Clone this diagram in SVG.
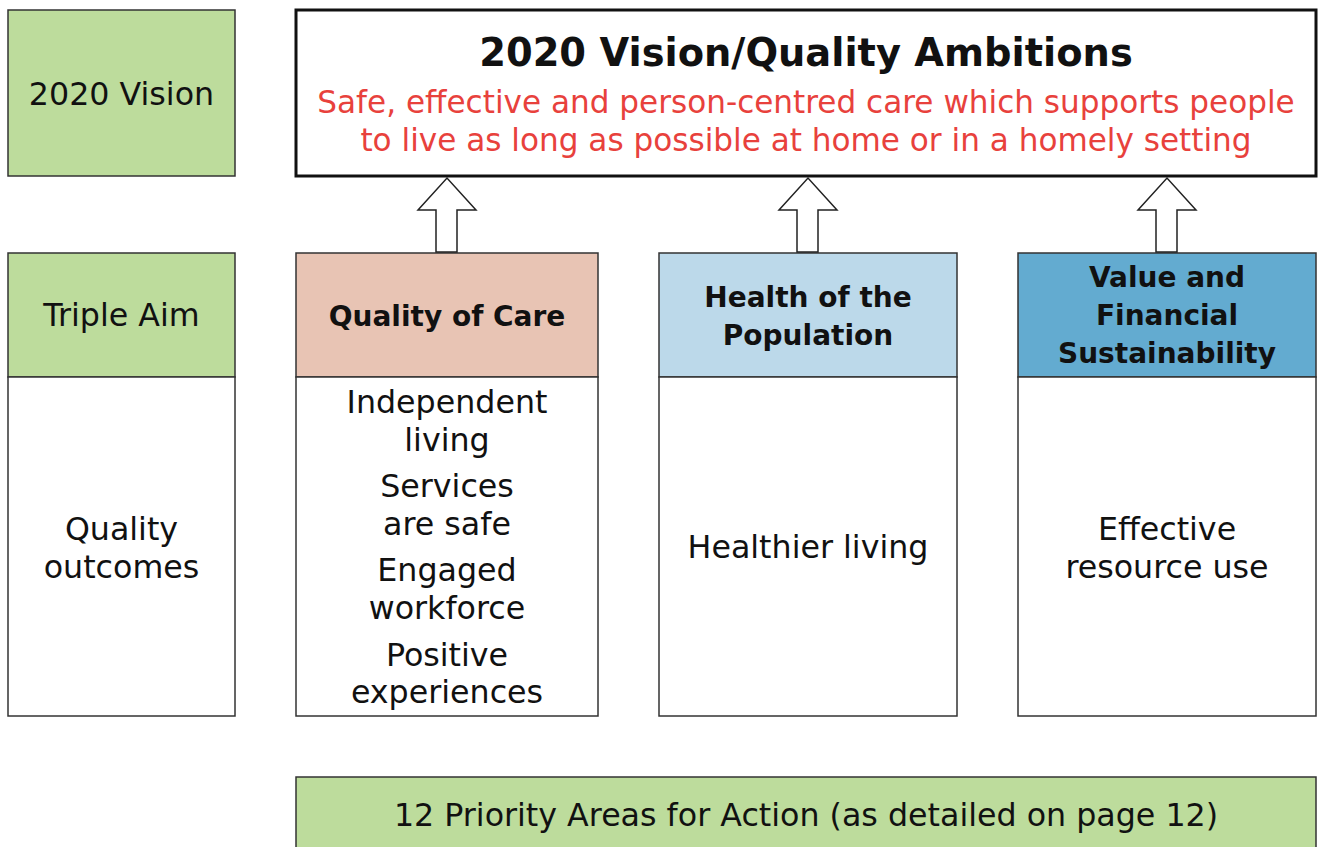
<svg xmlns="http://www.w3.org/2000/svg" width="1319" height="847" viewBox="0 0 1319 847">
<style>
.g{fill:#bddc9c;stroke:#333;stroke-width:1.5}
.w{fill:#fff;stroke:#333;stroke-width:1.5}
text{font-family:"DejaVu Sans","Noto Sans",sans-serif;text-anchor:middle;fill:#111}
.n{font-size:31.7px}
.b{font-size:28px;font-weight:bold}
.r{font-size:31.1px;fill:#e8413c}
.arr{fill:#fff;stroke:#222;stroke-width:1.5}
</style>
<rect width="1319" height="847" fill="#fff"/>
<g id="vision-label"><rect class="g" x="8" y="10" width="227" height="166"/><text class="n" x="121.5" y="105">2020 Vision</text></g>
<g id="vision-main"><rect x="296" y="10" width="1020" height="166" fill="#fff" stroke="#111" stroke-width="3"/>
<text x="806" y="66" font-size="38.4" font-weight="bold">2020 Vision/Quality Ambitions</text>
<text class="r" x="806" y="113">Safe, effective and person-centred care which supports people</text>
<text class="r" x="806" y="151">to live as long as possible at home or in a homely setting</text></g>
<g id="triple-label"><rect class="g" x="8" y="253" width="227" height="124"/><text class="n" x="121.5" y="326">Triple Aim</text>
<rect class="w" x="8" y="377" width="227" height="339"/><text class="n" x="121.5" y="540">Quality</text><text class="n" x="121.5" y="578">outcomes</text></g>
<g id="quality"><rect x="296" y="253" width="302" height="124" fill="#e8c4b4" stroke="#333" stroke-width="1.5"/><text class="b" x="447" y="326">Quality of Care</text>
<rect class="w" x="296" y="377" width="302" height="339"/>
<text class="n" x="447" y="413">Independent</text><text class="n" x="447" y="451">living</text>
<text class="n" x="447" y="497">Services</text><text class="n" x="447" y="535">are safe</text>
<text class="n" x="447" y="581">Engaged</text><text class="n" x="447" y="619">workforce</text>
<text class="n" x="447" y="666">Positive</text><text class="n" x="447" y="703">experiences</text></g>
<g id="health"><rect x="659" y="253" width="298" height="124" fill="#bcd9ea" stroke="#333" stroke-width="1.5"/><text class="b" x="808" y="307">Health of the</text><text class="b" x="808" y="345">Population</text>
<rect class="w" x="659" y="377" width="298" height="339"/><text class="n" x="808" y="558">Healthier living</text></g>
<g id="value"><rect x="1018" y="253" width="298" height="124" fill="#63abd0" stroke="#333" stroke-width="1.5"/><text class="b" x="1167" y="287">Value and</text><text class="b" x="1167" y="325">Financial</text><text class="b" x="1167" y="363">Sustainability</text>
<rect class="w" x="1018" y="377" width="298" height="339"/><text class="n" x="1167" y="540">Effective</text><text class="n" x="1167" y="578">resource use</text></g>
<g id="priority"><rect class="g" x="296" y="777" width="1020" height="75"/><text class="n" x="806" y="826">12 Priority Areas for Action (as detailed on page 12)</text></g>
<g id="connectors">
<polygon class="arr" points="436,252 436,210 418,210 447,178 476,210 457,210 457,252"/>
<polygon class="arr" points="797,252 797,210 779,210 808,178 837,210 818,210 818,252"/>
<polygon class="arr" points="1156,252 1156,210 1138,210 1167,178 1196,210 1177,210 1177,252"/>
</g>
</svg>
